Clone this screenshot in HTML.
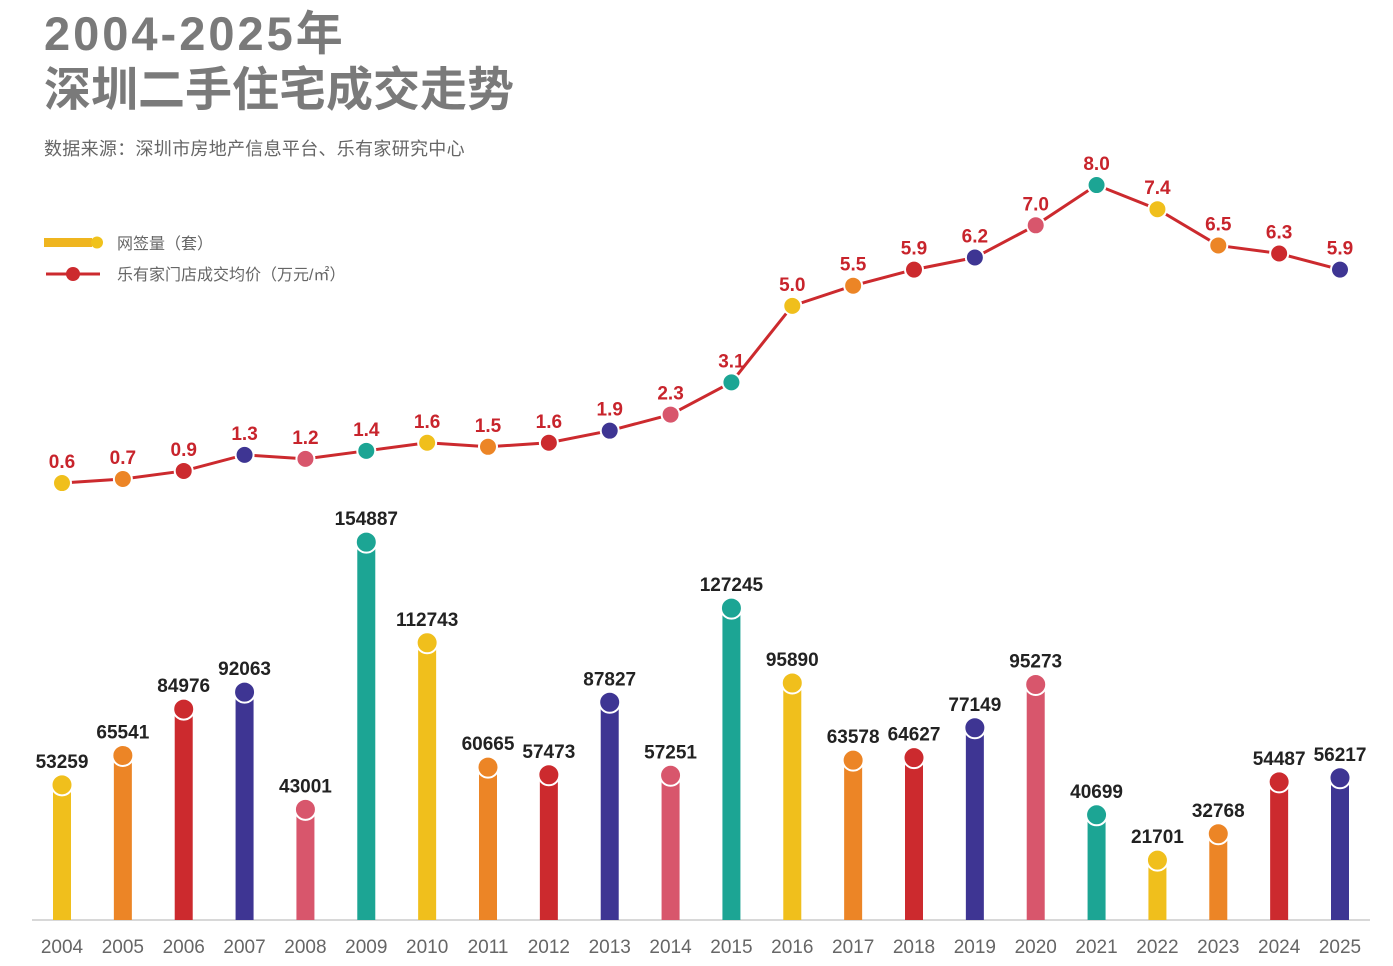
<!DOCTYPE html>
<html><head><meta charset="utf-8"><style>
body{margin:0;background:#fff;width:1393px;height:966px;overflow:hidden;font-family:"Liberation Sans","Noto Sans CJK SC",sans-serif}
#t1,#t2{position:absolute;left:44px;color:#7a7a7a;font-weight:bold;font-size:47px;line-height:1;margin:0}
#t1{top:10px;letter-spacing:3px}#t2{top:66px}
#src{position:absolute;left:44px;top:135px;font-size:18px;color:#666;letter-spacing:0.3px}
</style></head><body>
<div id="t1">2004-2025年</div>
<div id="t2">深圳二手住宅成交走势</div>
<div id="src">数据来源：深圳市房地产信息平台、乐有家研究中心</div>
<svg id="c" width="1393" height="966" style="position:absolute;left:0;top:0"></svg>
<script>
const years=["2004","2005","2006","2007","2008","2009","2010","2011","2012","2013","2014","2015","2016","2017","2018","2019","2020","2021","2022","2023","2024","2025"];
const volumes=[53259,65541,84976,92063,43001,154887,112743,60665,57473,87827,57251,127245,95890,63578,64627,77149,95273,40699,21701,32768,54487,56217];
const prices=[0.6,0.7,0.9,1.3,1.2,1.4,1.6,1.5,1.6,1.9,2.3,3.1,5.0,5.5,5.9,6.2,7.0,8.0,7.4,6.5,6.3,5.9];
const priceLabels=["0.6","0.7","0.9","1.3","1.2","1.4","1.6","1.5","1.6","1.9","2.3","3.1","5.0","5.5","5.9","6.2","7.0","8.0","7.4","6.5","6.3","5.9"];
const colors=["#f0bf1c","#ec8526","#cc2a2e","#3e3593","#d8566c","#1ca594"];
const NS="http://www.w3.org/2000/svg",svg=document.getElementById('c');
function mk(t,a,p){const e=document.createElementNS(NS,t);for(const k in a)e.setAttribute(k,a[k]);(p||svg).appendChild(e);return e;}
const x=i=>62+i*(1340-62)/21;
const yv=v=>912-v*0.002388;
const yp=v=>507.2-v*40.27;
const base=920;
const ax=mk('line',{x1:32,x2:1370,y1:base,y2:base,stroke:'#ccc','stroke-width':1.5});

const lg=mk('g',{});
mk('rect',{x:44,y:238,width:48,height:9,fill:'#efb51f'},lg);mk('circle',{cx:97,cy:242.5,r:6,fill:'#f0c21c'},lg);
const l1=mk('text',{x:117,y:249,'font-size':16,fill:'#666'},lg);l1.textContent='网签量（套）';

mk('line',{x1:46,x2:100,y1:274,y2:274,stroke:'#cc2a2e','stroke-width':3,'stroke-dasharray':'14 26'},lg);
mk('line',{x1:60,x2:86,y1:274,y2:274,stroke:'#cc2a2e','stroke-width':3},lg);
mk('circle',{cx:73,cy:274,r:7,fill:'#cc2a2e'},lg);
const l2=mk('text',{x:117,y:280,'font-size':16,fill:'#666'},lg);l2.textContent='乐有家门店成交均价（万元/㎡）';

years.forEach((yr,i)=>{
 const c=colors[i%6],cx=x(i),cy=yv(volumes[i]);
 const b=mk('rect',{x:cx-9,y:cy,width:18,height:base-cy,fill:c});
 
 mk('circle',{cx:cx,cy:cy,r:10.5,fill:c,stroke:'#fff','stroke-width':2});
 const t=mk('text',{x:cx,y:cy-17,'text-anchor':'middle','font-size':19,'font-weight':'bold',fill:'#222'});
 t.textContent=volumes[i];
 const tl=mk('text',{x:cx,y:953,'text-anchor':'middle','font-size':19,fill:'#666'});
 tl.textContent=yr;
});
const pl=mk('polyline',{points:prices.map((p,i)=>x(i)+','+yp(p)).join(' '),fill:'none',stroke:'#cc2a2e','stroke-width':3});

prices.forEach((p,i)=>{
 const d=mk('circle',{cx:x(i),cy:yp(p),r:9,fill:colors[i%6],stroke:'#fff','stroke-width':2});
 
 const t=mk('text',{x:x(i),y:yp(p)-15,'text-anchor':'middle','font-size':19,'font-weight':'bold',fill:'#c8242c'});
 t.textContent=priceLabels[i];
});
</script>
</body></html>
